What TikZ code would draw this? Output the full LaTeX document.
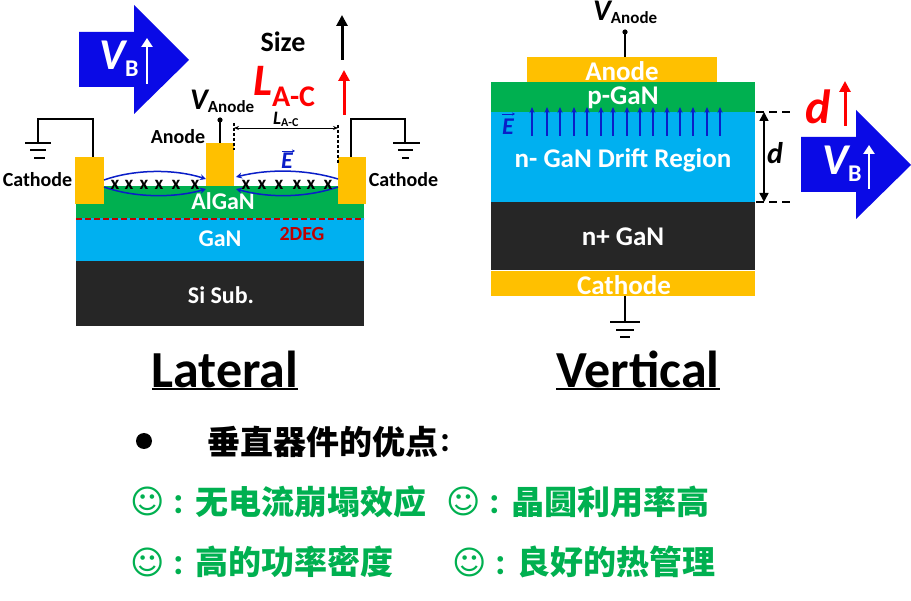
\documentclass[tikz,border=0pt]{standalone}
\usepackage{fontspec}
\setmainfont{Carlito}
\newfontfamily\cjkfont{Noto Sans CJK SC}
\newfontfamily\symfont{DejaVu Sans}
\usetikzlibrary{arrows.meta,calc}
\definecolor{gold}{HTML}{FFC000}
\definecolor{layergreen}{HTML}{00B050}
\definecolor{layerblue}{HTML}{00B0F0}
\definecolor{layerblack}{HTML}{262626}
\definecolor{vbblue}{HTML}{0A0AE6}
\definecolor{efield}{HTML}{0A1EC8}
\newcommand{\fs}[1]{\fontsize{#1}{#1}\selectfont}
\tikzset{
  lbl/.style={inner sep=0pt,font=\bfseries\fs{#1}},
  whitelbl/.style={lbl=#1,text=white},
  greenzh/.style={inner sep=0pt,anchor=west,text=layergreen,font=\cjkfont\bfseries\fs{#1}},
  smile/.style={inner sep=0pt,text=layergreen,font=\symfont\fs{33}},
  colonmark/.style={inner sep=0pt,text=layergreen,font=\bfseries\fs{38}},
  wire/.style={black,line width=1.3pt},
  gnd/.style={black,line width=1.3pt},
  fieldarc/.style={draw=efield,line width=1.5pt,-{Stealth[length=6pt,width=6pt]}},
  fieldup/.style={draw=efield,line width=1.2pt,-{Stealth[length=6pt,width=5pt]}},
  bigup/.style={line width=3pt,-{Triangle[length=11pt,width=11pt]}},
  whiteup/.style={white,line width=2.5pt,-{Triangle[length=9pt,width=11pt]}},
  xmark/.style={inner sep=0pt,font=\bfseries\fs{19}},
  dimdash/.style={black,line width=1.1pt,dash pattern=on 3pt off 2pt},
  thickdash/.style={black,line width=2.4pt,dash pattern=on 8pt off 5pt},
}
\begin{document}
\begin{tikzpicture}[x=1pt,y=-1pt]
\useasboundingbox (0,0) rectangle (911,601);
\fill[white] (0,0) rectangle (911,601);

% ---------- Lateral ----------
\fill[layerblack] (76,261) rectangle (364,326);
\fill[layerblue] (76,218) rectangle (364,261);
\fill[layergreen] (76,186) rectangle (364,218);
\fill[gold] (75,157) rectangle (104,204);
\fill[gold] (206,143) rectangle (234,186);
\fill[gold] (338,157) rectangle (366,204);
\draw[red!75!black,line width=1.3pt,dash pattern=on 6pt off 3pt] (76,219) -- (364,219);

\node[whitelbl=24] (algan) at (223,201) {AlGaN};
\node[whitelbl=24] (gan) at (220,239) {GaN};
\node[lbl=20,text=red!75!black] (deg) at (302,234) {2DEG};
\node[whitelbl=24] (si) at (221,295) {Si Sub.};
\node[lbl=20] (catl) at (37.5,180) {Cathode};
\node[lbl=20] (catr) at (403.5,180) {Cathode};
\node[lbl=20] (anl) at (178,137) {Anode};
\node[lbl=28] (size) at (283,42) {Size};
\node[lbl=45,text=red,anchor=base west] (lac) at (253,96) {\itshape L\raisebox{-11pt}{\upshape\fs{30}A-C}};
\node[lbl=30,anchor=base west] (van) at (190,110) {\itshape V\raisebox{-3pt}{\upshape\fs{17}Anode}};
\node[lbl=19,anchor=base west] (lacs) at (273,125) {\itshape L\raisebox{-2pt}{\upshape\fs{12}A-C}};

% ground wires
\coordinate (cl) at (93,157); \coordinate (gl) at (38,143);
\coordinate (cr) at (351,157); \coordinate (gr) at (405,143);
\draw[wire] (cl) |- (gl |- 0,119) -- (gl);
\draw[wire] (cr) |- (gr |- 0,119) -- (gr);
\draw[gnd] (25,143) -- (51,143) (30,150) -- (46,150) (34,158) -- (45,158);
\draw[gnd] (393,143) -- (420,143) (398,150) -- (413,150) (402,158) -- (409,158);

% anode terminal
\coordinate (at) at (220,143); \coordinate (ad) at (220,120);
\draw[wire] (at) -- (ad);
\fill (ad) circle (2.6);

% dimension
\coordinate (d1) at (234,128); \coordinate (d2) at (338,128);
\draw[dimdash] (234,123) -- (234,150);
\draw[dimdash] (338,125) -- (338,163);
\draw[black,line width=0.9pt,{Stealth[length=5pt,width=4pt]}-{Stealth[length=5pt,width=4pt]}] (d1) -- (d2);

% size arrows
\draw[bigup,black] (342,60) -- (342,15);
\draw[bigup,red] (344,115) -- (344,70);

% VB arrow left
\fill[vbblue] (79,32) -- (134,32) -- (134,5) -- (189,60) -- (134,114) -- (134,87) -- (79,87) -- cycle;
\node[whitelbl=44,anchor=base west] (vbl) at (99,70) {\itshape V\raisebox{-7pt}{\upshape\fs{24}B}};
\draw[whiteup] (147,84) -- (147,38);

% field arcs
\draw[fieldarc] (104,180) .. controls (135,169) and (175,169) .. (206,179);
\draw[fieldarc] (104,187) .. controls (135,198) and (175,198) .. (206,189);
\draw[fieldarc] (338,179) .. controls (305,169) and (268,169) .. (236,177);
\draw[fieldarc] (338,187) .. controls (305,198) and (268,198) .. (236,189);
\foreach \i/\x in {1/115,2/129,3/144,4/159,5/176,6/195,7/246,8/262,9/279,10/297,11/311,12/328}
  \node[xmark] (x\i) at (\x,185) {x};
\node[lbl=24,text=efield,font=\bfseries\itshape\fs{24}] (el) at (287,161) {E};
\draw[efield,line width=0.9pt,-{Stealth[length=3pt,width=3pt]}] (282,151) -- (295,151);

% ---------- Vertical ----------
\fill[layerblack] (491,202) rectangle (755,270);
\fill[layerblue] (491,112) rectangle (755,202);
\fill[layergreen] (491,82) rectangle (755,112);
\fill[gold] (527,57) rectangle (717,82);
\fill[gold] (491,271) rectangle (755,296);

\node[whitelbl=27] (anv) at (622,71) {Anode};
\node[whitelbl=27] (pgan) at (623,98) {p-GaN};
\node[whitelbl=27] (drift) at (623,160) {n- GaN Drift Region};
\node[whitelbl=27] (ngan) at (623,237) {n+ GaN};
\node[whitelbl=27] (catv) at (624,285) {Cathode};
\node[lbl=30,anchor=base west] (vanv) at (593,21) {\itshape V\raisebox{-3pt}{\upshape\fs{17}Anode}};

\coordinate (vt) at (625,57); \coordinate (vd) at (625,32);
\draw[wire] (vt) -- (vd);
\fill (vd) circle (2.6);
\coordinate (vb) at (625,296); \coordinate (vg) at (625,322);
\draw[wire] (vb) -- (vg);
\draw[gnd] (610,322) -- (640,322) (616,330) -- (634,330) (620,337) -- (630,337);

\foreach \x in {532,547,560,574,587,601,613,627,640,653,667,680,693,707,720}
  \draw[fieldup] (\x,136) -- (\x,107);
\node[lbl=24,text=efield,font=\bfseries\itshape\fs{24}] (ev) at (508,127) {E};
\draw[efield,line width=0.9pt,-{Stealth[length=3pt,width=3pt]}] (502,114) -- (515,114);

\coordinate (dt) at (764,112); \coordinate (db) at (764,202);
\draw[black,line width=1.5pt,{Triangle[length=9pt,width=9pt]}-{Triangle[length=9pt,width=9pt]}] (dt) -- (db);
\draw[thickdash] (756,112) -- (793,112);
\draw[thickdash] (756,202) -- (793,202);
\node[lbl=30,font=\bfseries\itshape\fs{30}] (dl) at (775,153) {d};
\node[lbl=46,text=red,font=\bfseries\itshape\fs{48}] (dr) at (818,107) {d};
\draw[bigup,red] (845,126) -- (845,81);

\fill[vbblue] (801,137) -- (856,137) -- (856,110) -- (911,165) -- (856,219) -- (856,192) -- (801,192) -- cycle;
\node[whitelbl=44,anchor=base west] (vbr) at (822,175) {\itshape V\raisebox{-7pt}{\upshape\fs{24}B}};
\draw[whiteup] (869,189) -- (869,145);

% ---------- Titles ----------
\node[inner sep=0pt,font=\bfseries\fs{52}] (lat) at (225,369) {Lateral};
\draw[black,line width=2.6pt] (152,389) -- (298,389);
\node[inner sep=0pt,font=\bfseries\fs{52}] (ver) at (638,369) {Vertical};
\draw[black,line width=2.6pt] (556,389) -- (720,389);

% ---------- Advantages ----------
\fill (144,441) circle (8);
\node[inner sep=0pt,anchor=west,font=\cjkfont\bfseries\fs{33}] (h) at (207,442) {垂直器件的优点};
\node[inner sep=0pt,font=\bfseries\fs{36}] (hc) at (445,443) {:};
\node[smile] (s1) at (148,501) {☺};
\node[colonmark] (c1) at (179,505) {:};
\node[greenzh=33] (t1) at (195,502) {无电流崩塌效应};
\node[smile] (s2) at (464,501) {☺};
\node[colonmark] (c2) at (495,505) {:};
\node[greenzh=33] (t2) at (511,502) {晶圆利用率高};
\node[smile] (s3) at (148,562) {☺};
\node[colonmark] (c3) at (179,566) {:};
\node[greenzh=33] (t3) at (195,562) {高的功率密度};
\node[smile] (s4) at (470,562) {☺};
\node[colonmark] (c4) at (501,566) {:};
\node[greenzh=33] (t4) at (517,562) {良好的热管理};
\end{tikzpicture}
\end{document}
